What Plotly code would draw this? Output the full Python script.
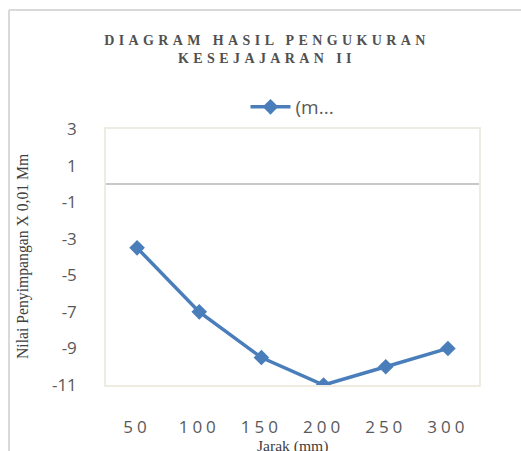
import plotly.graph_objects as go

# Measurement data
jarak = ["50", "100", "150", "200", "250", "300"]
penyimpangan = [-3.5, -7, -9.5, -11, -10, -9]
y_ticks = [3, 1, -1, -3, -5, -7, -9, -11]
series_name = "(m..."

title_lines = ["DIAGRAM HASIL PENGUKURAN", "KESEJAJARAN II"]
y_title = "Nilai Penyimpangan X 0,01 Mm"
x_title = "Jarak (mm)"

W, H = 521, 451
L, R, T, B = 106, 42, 129, 66
plot_w, plot_h = W - L - R, H - T - B

blue = "#4A7EBB"
grey_text = "#595959"


def spaced(s, px):
    return f'<span style="letter-spacing:{px}px">{s}</span>'


fig = go.Figure()
fig.add_trace(go.Scatter(
    x=jarak, y=penyimpangan, name=series_name,
    mode="lines+markers",
    line=dict(color=blue, width=3.5),
    marker=dict(symbol="diamond", size=12, color=blue),
    showlegend=True,
))

fig.update_layout(
    width=W, height=H,
    margin=dict(l=L, r=R, t=T, b=B),
    paper_bgcolor="white", plot_bgcolor="white",
    title=dict(
        text="<br>".join(spaced(t, 4.4) for t in title_lines),
        font=dict(family="Liberation Serif", size=14, color="#505050", weight="bold"),
        xref="container", x=267 / W, xanchor="center",
        yref="container", y=1 - 45 / H, yanchor="top",
    ),
    showlegend=True,
    legend=dict(
        orientation="h", x=0.5, xanchor="center",
        y=1 + 22 / plot_h, yanchor="middle",
        font=dict(family="Open Sans", size=19, color=grey_text),
        itemwidth=40,
    ),
    xaxis=dict(
        type="category",
        range=[-0.5, len(jarak) - 0.5],
        tickmode="array", tickvals=jarak,
        ticktext=[spaced(v, 4) for v in jarak],
        tickfont=dict(family="Open Sans", size=17, color=grey_text),
        showgrid=False, zeroline=False,
        showline=True, mirror=True, linecolor="#EEECE1", linewidth=1.5,
        ticks="", ticklabelstandoff=26,
    ),
    yaxis=dict(
        range=[-11, 3],
        tickmode="array", tickvals=y_ticks,
        ticktext=[str(v) for v in y_ticks],
        tickfont=dict(family="Open Sans", size=17, color=grey_text),
        showgrid=False,
        zeroline=True, zerolinecolor="#C8C8C8", zerolinewidth=1.5,
        showline=True, mirror=True, linecolor="#EEECE1", linewidth=1.5,
        ticks="", ticklabelstandoff=24,
    ),
)

# Axis titles
fig.add_annotation(
    text=y_title, textangle=-90,
    xref="paper", yref="paper",
    x=(23 - L) / plot_w, y=0.5 - (257 - (T + plot_h / 2)) / plot_h,
    xanchor="center", yanchor="middle", showarrow=False,
    font=dict(family="Liberation Serif", size=15.7, color="#404040"),
)
fig.add_annotation(
    text=x_title,
    xref="paper", yref="paper",
    x=(292 - L) / plot_w, y=-(445.5 - (T + plot_h)) / plot_h,
    xanchor="center", yanchor="middle", showarrow=False,
    font=dict(family="Liberation Serif", size=15.6, color="#404040"),
)

# Outer chart frame (top and left edges)
frame_x = (9 - L) / plot_w
frame_y = (T + plot_h - 10) / plot_h
fig.add_shape(type="line", xref="paper", yref="paper",
              x0=frame_x, x1=(W + 5 - L) / plot_w, y0=frame_y, y1=frame_y,
              line=dict(color="#D9D9D9", width=2))
fig.add_shape(type="line", xref="paper", yref="paper",
              x0=frame_x, x1=frame_x, y0=frame_y, y1=-(H + 5 - T - plot_h) / plot_h,
              line=dict(color="#D9D9D9", width=2))

fig.write_html("out.html")
